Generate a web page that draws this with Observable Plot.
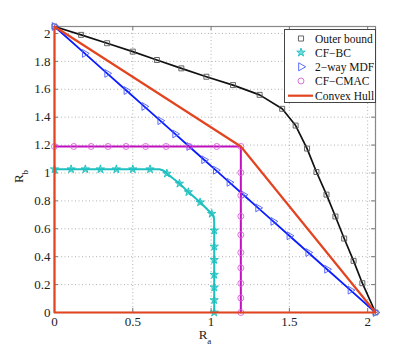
<!DOCTYPE html>
<html><head><meta charset="utf-8">
<script src="https://cdn.jsdelivr.net/npm/d3@7"></script>
<script src="https://cdn.jsdelivr.net/npm/@observablehq/plot@0.6"></script>
<style>
body{margin:0;background:#fff;}
#wrap{position:relative;width:415px;height:351px;font-family:"Liberation Serif","Times New Roman",serif;}
#legend{position:absolute;left:284px;top:29px;}
</style></head><body><div id="wrap"></div>
<script>
// Tick values
const xTicks = [0, 0.5, 1, 1.5, 2];
const yTicks = [0, 0.2, 0.4, 0.6, 0.8, 1, 1.2, 1.4, 1.6, 1.8, 2];

// Outer bound
const outerRa = [0, 0.17, 0.336, 0.50, 0.654, 0.81, 0.97, 1.14, 1.31, 1.454, 1.54, 1.613, 1.673, 1.737, 1.794, 1.85, 1.91, 1.966, 2.05];
const outerRb = [2.05, 1.99, 1.93, 1.87, 1.81, 1.75, 1.69, 1.63, 1.56, 1.46, 1.34, 1.175, 1.007, 0.845, 0.688, 0.53, 0.37, 0.21, 0];

// CF-BC (line path and marker positions)
const bcLineRa = [0, 0.67, 0.69, 0.705, 0.718, 0.798, 0.855, 0.93, 1.004, 1.014, 1.019, 1.02, 1.02];
const bcLineRb = [1.027, 1.027, 1.02, 1.01, 0.996, 0.924, 0.863, 0.79, 0.708, 0.694, 0.67, 0.64, 0];
const bcMarkRa = [0, 0.106, 0.197, 0.293, 0.395, 0.50, 0.61, 0.718, 0.798, 0.855, 0.93, 1.004, 1.02, 1.02, 1.02, 1.02, 1.02, 1.02, 1.02];
const bcMarkRb = [1.027, 1.027, 1.027, 1.027, 1.027, 1.027, 1.027, 0.996, 0.924, 0.863, 0.79, 0.708, 0.588, 0.473, 0.377, 0.271, 0.18, 0.089, 0];

// 2-way MDF
const mdfRa = [0, 0.193, 0.336, 0.459, 0.573, 0.675, 0.77, 0.86, 0.955, 1.03, 1.117, 1.206, 1.30, 1.397, 1.50, 1.62, 1.74, 1.89, 2.05];
const mdfRb = [2.05, 1.857, 1.714, 1.591, 1.477, 1.375, 1.28, 1.19, 1.095, 1.02, 0.933, 0.844, 0.75, 0.653, 0.55, 0.43, 0.31, 0.16, 0];

// CF-CMAC
const cmacLineRa = [0, 1.19, 1.19];
const cmacLineRb = [1.19, 1.19, 0];
const cmacMarkRa = [0, 0.123, 0.234, 0.342, 0.457, 0.582, 0.713, 0.862, 1.036, 1.19, 1.19, 1.19, 1.19, 1.19, 1.19, 1.19, 1.19, 1.19, 1.19];
const cmacMarkRb = [1.19, 1.19, 1.19, 1.19, 1.19, 1.19, 1.19, 1.19, 1.19, 1.19, 1.003, 0.84, 0.69, 0.557, 0.43, 0.32, 0.209, 0.104, 0];

// Convex hull
const hullRa = [0, 0, 1.19, 2.05, 0];
const hullRb = [0, 2.05, 1.19, 0, 0];

const seriesNames = ["Outer bound", "CF\u2212BC", "2\u2212way MDF", "CF\u2212CMAC", "Convex Hull"];

const rows = (xs, ys) => xs.map((x, i) => ({x, y: ys[i]}));
const outer = rows(outerRa, outerRb);
const bcLine = rows(bcLineRa, bcLineRb), bcMark = rows(bcMarkRa, bcMarkRb);
const mdf = rows(mdfRa, mdfRb);
const cmacLine = rows(cmacLineRa, cmacLineRb), cmacMark = rows(cmacMarkRa, cmacMarkRb);
const hull = rows(hullRa, hullRb);

const C = {black: "#111", mark: "#555", cyan: "#1cc0bf", blue: "#0a1cff", mag: "#c010c0", magM: "#d860d8", red: "#e34420"};
const fam = "'Liberation Serif', 'Times New Roman', serif";
const fmt = d => String(d);

const chart = Plot.plot({
  width: 415, height: 351,
  marginLeft: 54, marginRight: 40, marginTop: 26, marginBottom: 39,
  style: {fontFamily: fam, fontSize: "13px", color: "#222", background: "white"},
  x: {domain: [0, 2.05]},
  y: {domain: [0, 2.05]},
  marks: [
    Plot.gridX(xTicks, {stroke: "#aaa", strokeOpacity: 1, strokeWidth: 0.9, strokeDasharray: "1,2.5"}),
    Plot.gridY(yTicks, {stroke: "#aaa", strokeOpacity: 1, strokeWidth: 0.9, strokeDasharray: "1,2.5"}),
    Plot.frame({stroke: "#888", strokeWidth: 1.2}),
    Plot.ruleX(xTicks, {y1: 0, y2: 0.03, stroke: "#777"}),
    Plot.ruleX(xTicks, {y1: 2.02, y2: 2.05, stroke: "#777"}),
    Plot.ruleY(yTicks, {x1: 0, x2: 0.025, stroke: "#777"}),
    Plot.ruleY(yTicks, {x1: 2.025, x2: 2.05, stroke: "#777"}),
    Plot.axisX(xTicks, {tickSize: 0, tickPadding: 4, label: null, fontSize: 13, fontFamily: fam, tickFormat: fmt}),
    Plot.axisY(yTicks, {tickSize: 0, tickPadding: 4, label: null, fontSize: 13, fontFamily: fam, tickFormat: fmt}),
    Plot.line(outer, {x: "x", y: "y", stroke: C.black, strokeWidth: 1.7}),
    Plot.dot(outer, {x: "x", y: "y", symbol: "square", r: 2.8, stroke: C.mark, strokeWidth: 0.9, fill: "none"}),
    Plot.line(bcLine, {x: "x", y: "y", stroke: C.cyan, strokeWidth: 2, curve: "linear"}),
    Plot.dot(bcMark, {x: "x", y: "y", symbol: "star", r: 2.6, stroke: C.cyan, strokeWidth: 0.9, fill: C.cyan, fillOpacity: 0.6}),
    Plot.line(mdf, {x: "x", y: "y", stroke: C.blue, strokeWidth: 1.8}),
    Plot.dot(mdf, {x: "x", y: "y", symbol: "triangle", rotate: 90, r: 2.9, stroke: "#4a5cff", strokeWidth: 0.9, fill: "none"}),
    Plot.line(cmacLine, {x: "x", y: "y", stroke: C.mag, strokeWidth: 2}),
    Plot.dot(cmacMark, {x: "x", y: "y", symbol: "circle", r: 3, stroke: C.magM, strokeWidth: 0.9, fill: "none"}),
    Plot.line(hull, {x: "x", y: "y", stroke: C.red, strokeWidth: 2.2})
  ]
});
const wrap = document.getElementById("wrap");
wrap.appendChild(chart);

// Axis labels with subscripts
const svg = d3.select(chart);
const xl = svg.append("text").attr("x", 205).attr("y", 339).attr("font-family", fam).attr("font-size", 13).attr("fill", "#222");
xl.append("tspan").text("R");
xl.append("tspan").attr("dy", 5).attr("font-size", 9).text("a");
const yl = svg.append("text").attr("transform", "translate(23,176.5) rotate(-90)").attr("font-family", fam).attr("font-size", 13).attr("fill", "#222");
yl.append("tspan").text("R");
yl.append("tspan").attr("dy", 5).attr("font-size", 9).text("b");

// Legend
const lg = d3.select(wrap).append("svg").attr("id", "legend").attr("width", 93).attr("height", 75);
lg.append("rect").attr("x", 0.5).attr("y", 0.5).attr("width", 91).attr("height", 73).attr("fill", "white").attr("stroke", "#444");
const rowY = [9.5, 23.5, 37.8, 52, 66.7];
const sym = [
  {t: d3.symbolSquare, s: 26, c: C.mark, rot: 0, f: "none"},
  {t: d3.symbolStar, s: 22, c: C.cyan, rot: 0, f: C.cyan},
  {t: d3.symbolTriangle, s: 28, c: "#4a5cff", rot: 90, f: "none"},
  {t: d3.symbolCircle, s: 28, c: C.magM, rot: 0, f: "none"}
];
seriesNames.forEach((name, i) => {
  const y = rowY[i];
  if (i < 4) {
    lg.append("path").attr("d", d3.symbol(sym[i].t, sym[i].s)()).attr("transform", `translate(17,${y}) rotate(${sym[i].rot})`)
      .attr("fill", sym[i].f).attr("fill-opacity", 0.6).attr("stroke", sym[i].c).attr("stroke-width", 0.9);
  } else {
    lg.append("line").attr("x1", 4).attr("x2", 29).attr("y1", y).attr("y2", y).attr("stroke", C.red).attr("stroke-width", 2.2);
  }
  lg.append("text").attr("x", 31).attr("y", y + 4).attr("font-family", fam).attr("font-size", 11.5).attr("fill", "#111").text(name);
});
</script>
</body></html>
